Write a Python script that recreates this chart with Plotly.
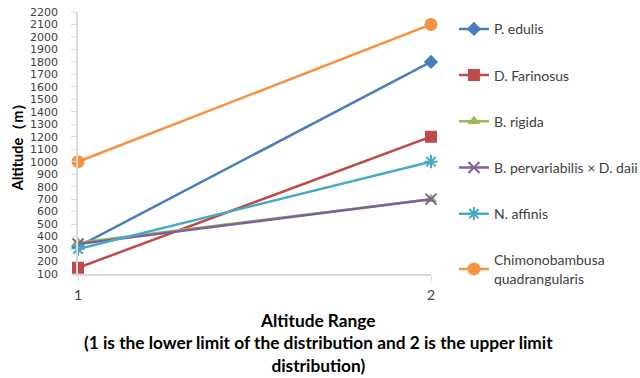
import plotly.graph_objects as go

x_vals = [1, 2]
series_names = ["P. edulis", "D. Farinosus", "B. rigida",
                "B. pervariabilis × D. daii", "N. affinis",
                "Chimonobambusa<br>quadrangularis"]
p_edulis = [320, 1800]
d_farinosus = [150, 1200]
b_rigida = [350, 700]
b_perv = [340, 700]
n_affinis = [300, 1000]
chimono = [1000, 2100]
y_ticks = list(range(100, 2201, 100))

values = [p_edulis, d_farinosus, b_rigida, b_perv, n_affinis, chimono]
colors = ["#4A7EBB", "#BE4B48", "#98B954", "#7D60A0", "#46AAC5", "#F69240"]
symbols = ["diamond", "square", "triangle-up", "x-thin-open", "asterisk-open", "circle"]
sizes = [11, 12, 11, 11, 11, 13]

fig = go.Figure()
for i, (name, vals) in enumerate(zip(series_names, values)):
    sym = symbols[i]
    open_sym = sym.endswith("open")
    fig.add_trace(go.Scatter(
        x=x_vals, y=vals, mode="lines+markers", name=name,
        legendgroup=f"g{i}",
        line=dict(color=colors[i], width=2.5),
        marker=dict(symbol=sym, size=sizes[i], color=colors[i],
                    line=dict(color=colors[i], width=2 if open_sym else 0)),
        cliponaxis=False,
    ))

fig.update_layout(
    width=640, height=378,
    margin=dict(l=78, r=209, t=12, b=104, autoexpand=False),
    paper_bgcolor="white", plot_bgcolor="white",
    font=dict(family="Lato", size=14, color="#404040"),
    showlegend=True,
    legend=dict(x=1.065, y=0.995, xanchor="left", yanchor="top",
                font=dict(family="Lato", size=14, color="#404040"),
                tracegroupgap=25, itemwidth=30, maxheight=378,
                bgcolor="rgba(0,0,0,0)"),
    xaxis=dict(range=[1, 2], tickvals=x_vals, ticktext=[str(v) for v in x_vals],
               showgrid=False, zeroline=False, showline=True, automargin=False,
               linecolor="#D9D9D9", linewidth=1.5, ticks="outside",
               tickcolor="#D9D9D9", ticklen=5, ticklabelstandoff=2,
               tickfont=dict(family="Lato", size=14, color="#404040")),
    yaxis=dict(range=[100, 2200], tickvals=y_ticks, showgrid=False, automargin=False,
               zeroline=False, showline=True, linecolor="#D9D9D9", linewidth=1.5,
               ticks="outside", tickcolor="#D9D9D9", ticklen=5, ticklabelstandoff=11,
               tickfont=dict(family="DejaVu Sans", size=11, color="#404040"),
               title=dict(text="<b>Altitude（m）</b>", standoff=3,
                          font=dict(family="Lato", size=14.5, color="#000000"))),
)

fig.add_annotation(
    text="<b>Altitude Range<br>(1 is the lower limit of the distribution and 2 is the upper limit<br>distribution)</b>",
    xref="paper", yref="paper", x=0.68, y=-0.13, xanchor="center", yanchor="top",
    showarrow=False, align="center",
    font=dict(family="Lato", size=17.3, color="#000000"),
)

fig.write_html("out.html", config={"displayModeBar": False},
               post_script="document.body.style.margin='0';document.body.style.overflow='hidden';")
